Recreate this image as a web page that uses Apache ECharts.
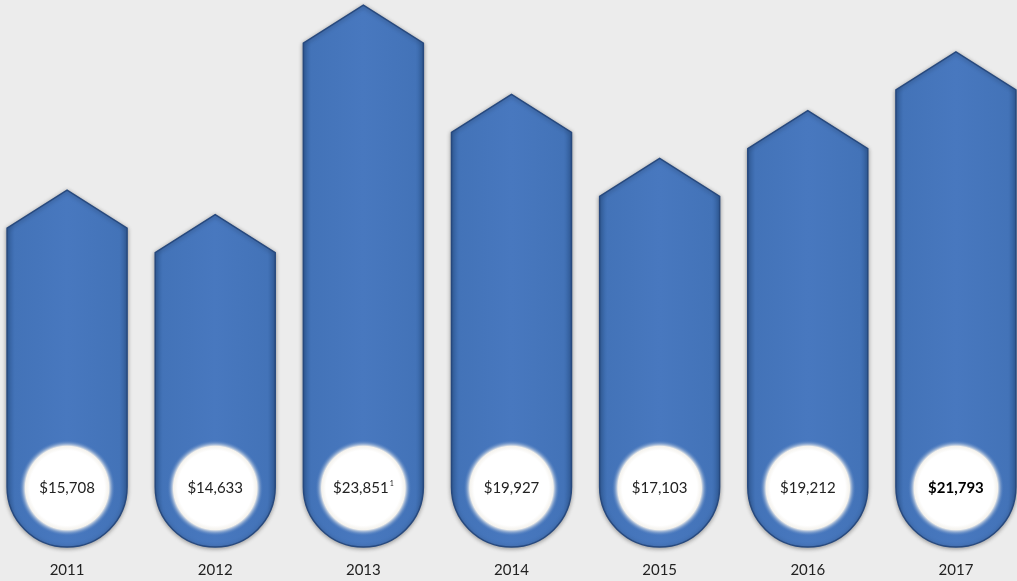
<!DOCTYPE html>
<html>
<head>
<meta charset="utf-8">
<script src="https://cdn.jsdelivr.net/npm/echarts@6/dist/echarts.min.js"></script>
<style>
html,body{margin:0;padding:0;background:#ececec;}
#chart{width:1017px;height:581px;}
</style>
</head>
<body>
<div id="chart"></div>
<script>
const years = ['2011', '2012', '2013', '2014', '2015', '2016', '2017'];
const values = [15708, 14633, 23851, 19927, 17103, 19212, 21793];
const valueLabels = ['$15,708', '$14,633', '$23,851', '$19,927', '$17,103', '$19,212', '$21,793'];
const footnotes = ['', '', '1', '', '', '', ''];
const boldFlags = [false, false, false, false, false, false, true];

const chart = echarts.init(document.getElementById('chart'));

function renderItem(params, api) {
  const i = api.value(0);
  const v = api.value(1);
  const top = api.coord([i, v]);
  const base = api.coord([i, 0]);
  const w = api.size([1, 0])[0] * 0.81;
  const hw = w / 2;
  const cx = top[0];
  const sh = 38;
  const cy = base[1] - hw;
  const d = 'M' + (cx - hw) + ',' + (top[1] + sh) +
    ' L' + cx + ',' + top[1] +
    ' L' + (cx + hw) + ',' + (top[1] + sh) +
    ' L' + (cx + hw) + ',' + cy +
    ' A' + hw + ',' + hw + ' 0 0 1 ' + (cx - hw) + ',' + cy + ' Z';
  const idx = params.dataIndex;
  const note = footnotes[idx];
  const bold = boldFlags[idx];
  const txt = '{v|' + valueLabels[idx] + '}' + (note ? '{s|' + note + '}' : '');
  return {
    type: 'group',
    children: [
      {
        type: 'path',
        shape: { pathData: d },
        style: {
          fill: {
            type: 'linear', x: 0, y: 0, x2: 1, y2: 0,
            colorStops: [
              { offset: 0, color: '#33609f' },
              { offset: 0.07, color: '#4373b8' },
              { offset: 0.5, color: '#4878bf' },
              { offset: 0.93, color: '#4373b8' },
              { offset: 1, color: '#33609f' }
            ]
          },
          stroke: '#27497e',
          lineWidth: 1.5,
          shadowBlur: 4,
          shadowColor: 'rgba(0,0,0,0.35)',
          shadowOffsetY: 1
        }
      },
      {
        type: 'circle',
        shape: { cx: cx, cy: cy + 1, r: 48 },
        style: {
          fill: {
            type: 'radial', x: 0.5, y: 0.5, r: 0.5,
            colorStops: [
              { offset: 0, color: '#ffffff' },
              { offset: 0.78, color: '#ffffff' },
              { offset: 0.87, color: '#f4f2ed' },
              { offset: 1, color: 'rgba(72,120,190,0)' }
            ]
          }
        }
      },
      {
        type: 'text',
        x: cx,
        y: cy + 1,
        style: {
          text: txt,
          align: 'center',
          verticalAlign: 'middle',
          rich: {
            v: {
              fontFamily: 'Lato',
              fontSize: 15,
              fontWeight: bold ? 'bold' : 'normal',
              fill: bold ? '#000000' : '#222222'
            },
            s: {
              fontFamily: 'Lato',
              fontSize: 7,
              fill: '#222222',
              padding: [0, 0, 8, 1]
            }
          }
        }
      }
    ]
  };
}

chart.setOption({
  backgroundColor: '#ececec',
  animation: false,
  grid: { left: -7, right: -13, top: 0, bottom: 34, containLabel: false, outerBoundsMode: 'none' },
  xAxis: {
    type: 'category',
    data: years,
    axisLine: { show: false },
    axisTick: { show: false },
    axisLabel: { color: '#222222', fontFamily: 'Lato', fontSize: 15, margin: 16 }
  },
  yAxis: {
    type: 'value',
    min: 0,
    max: 24080,
    show: false,
    splitLine: { show: false }
  },
  series: [{
    type: 'custom',
    renderItem: renderItem,
    data: values.map((v, i) => [i, v]),
    clip: false
  }]
});
</script>
</body>
</html>
